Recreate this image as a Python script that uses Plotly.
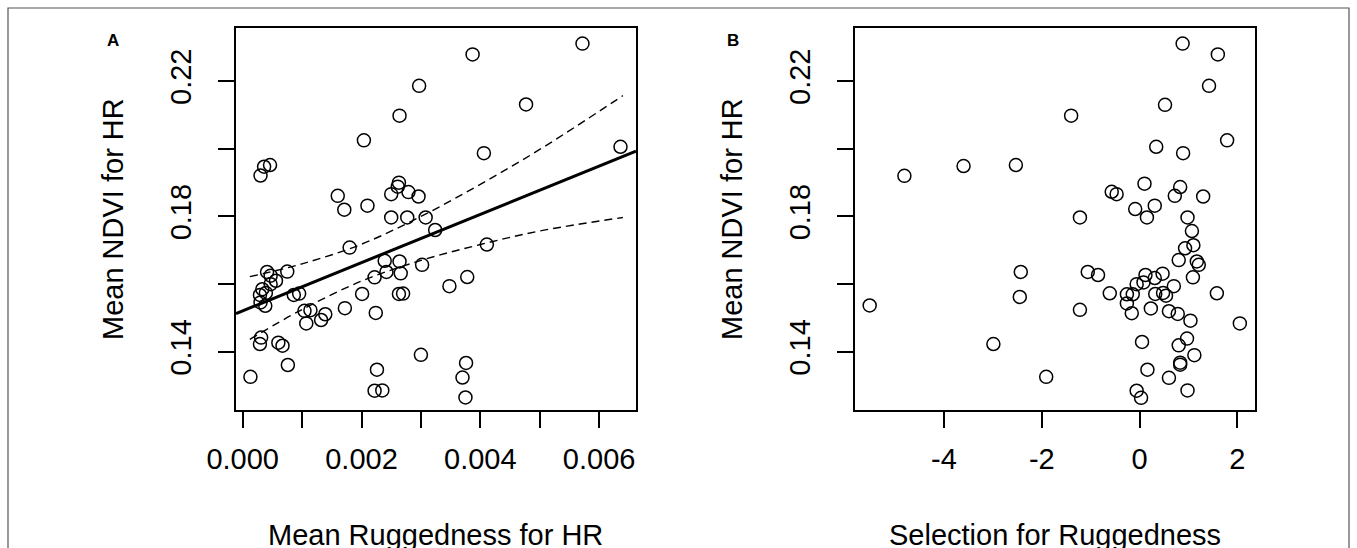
import plotly.graph_objects as go

# ---------------- data ----------------
rug_x = [0.00572, 0.00387, 0.00297, 0.00477, 0.00264, 0.00204, 0.00636, 0.00406,
         0.00030, 0.00036, 0.00046, 0.00263, 0.00261, 0.00250, 0.00279, 0.00296,
         0.00160, 0.00171, 0.00210, 0.00250, 0.00277, 0.00308, 0.00324, 0.00180,
         0.00411, 0.00239, 0.00264, 0.00302, 0.00242, 0.00266, 0.00222, 0.00378,
         0.00348, 0.00075, 0.00041, 0.00047, 0.00056, 0.00047, 0.00033, 0.00039,
         0.00029, 0.00030, 0.00038, 0.00086, 0.00095, 0.00201, 0.00263, 0.00270,
         0.00104, 0.00114, 0.00139, 0.00132, 0.00107, 0.00172, 0.00224, 0.00031,
         0.00029, 0.00060, 0.00067, 0.00076, 0.00013, 0.00300, 0.00376, 0.00370,
         0.00226, 0.00222, 0.00235, 0.00375]
ndvi_a = [0.2311, 0.2279, 0.2186, 0.2131, 0.2098, 0.2025, 0.2006, 0.1987,
          0.1921, 0.1947, 0.1952, 0.1900, 0.1888, 0.1866, 0.1872, 0.1859,
          0.1861, 0.1820, 0.1832, 0.1797, 0.1797, 0.1797, 0.1760, 0.1708,
          0.1717, 0.1669, 0.1667, 0.1657, 0.1636, 0.1632, 0.1620, 0.1621,
          0.1594, 0.1637, 0.1636, 0.1625, 0.1610, 0.1600, 0.1585, 0.1574,
          0.1568, 0.1546, 0.1536, 0.1568, 0.1572, 0.1571, 0.1571, 0.1572,
          0.1521, 0.1523, 0.1511, 0.1494, 0.1484, 0.1529, 0.1515, 0.1442,
          0.1423, 0.1427, 0.1418, 0.1361, 0.1326, 0.1391, 0.1367, 0.1324,
          0.1347, 0.1285, 0.1286, 0.1265]

sel_x = [0.88, 1.60, 1.42, 0.52, -1.40, 1.79, 0.34, 0.89,
         -4.81, -3.60, -2.53, 0.10, 0.83, 0.72, 1.30, -0.57,
         -0.47, -0.09, 0.31, -1.22, 0.15, 0.98, 1.07, 0.93,
         1.10, 0.80, 1.17, 1.21, 1.09, -2.43, -2.45, -5.52,
         -2.99, -1.91, -1.22, -1.06, -0.85, -0.61, -0.26, -0.14,
         -0.26, -0.16, -0.06, 0.08, 0.12, 0.31, 0.47, 0.70,
         0.32, 0.48, 0.54, 0.23, 0.60, 0.78, 1.04, 1.58,
         2.05, 0.05, 0.97, 0.80, 1.12, 0.83, 0.83, 0.16,
         0.60, 0.98, -0.06, 0.03]
ndvi_b = [0.2311, 0.2279, 0.2186, 0.2130, 0.2098, 0.2025, 0.2006, 0.1987,
          0.1920, 0.1949, 0.1952, 0.1897, 0.1887, 0.1861, 0.1859, 0.1873,
          0.1866, 0.1822, 0.1832, 0.1797, 0.1797, 0.1797, 0.1757, 0.1706,
          0.1715, 0.1671, 0.1667, 0.1657, 0.1620, 0.1636, 0.1562, 0.1537,
          0.1423, 0.1326, 0.1524, 0.1636, 0.1627, 0.1573, 0.1570, 0.1570,
          0.1543, 0.1514, 0.1600, 0.1605, 0.1627, 0.1618, 0.1631, 0.1594,
          0.1571, 0.1574, 0.1566, 0.1528, 0.1520, 0.1512, 0.1492, 0.1573,
          0.1484, 0.1429, 0.1439, 0.1419, 0.1390, 0.1368, 0.1362, 0.1347,
          0.1323, 0.1286, 0.1285, 0.1264]

# fitted regression line (panel A) and its confidence band
fit_x = [-0.000113, 0.006621]
fit_y = [0.1513, 0.1993]
ci_x = [0.00012, 0.001, 0.002, 0.003, 0.004, 0.005, 0.0064]
ci_upper = [0.1622, 0.1660, 0.1718, 0.1800, 0.1895, 0.1998, 0.2157]
ci_lower = [0.1437, 0.1525, 0.1609, 0.1670, 0.1717, 0.1757, 0.1797]

# ticks
y_tickvals = [0.14, 0.16, 0.18, 0.20, 0.22]
y_ticktext = ["0.14", "", "0.18", "", "0.22"]
xa_tickvals = [0.000, 0.001, 0.002, 0.003, 0.004, 0.005, 0.006]
xa_ticktext = ["0.000", "", "0.002", "", "0.004", "", "0.006"]
xb_tickvals = [-4, -2, 0, 2]
xb_ticktext = ["-4", "-2", "0", "2"]

# ---------------- figure ----------------
W, H = 1357, 548
FONT = "Liberation Sans, Arial, Helvetica, sans-serif"

fig = go.Figure()

marker = dict(symbol="circle-open", size=13, color="black", line=dict(width=1.5, color="black"))

fig.add_trace(go.Scatter(x=rug_x, y=ndvi_a, mode="markers", marker=marker,
                         xaxis="x", yaxis="y", showlegend=False))
fig.add_trace(go.Scatter(x=fit_x, y=fit_y, mode="lines",
                         line=dict(color="black", width=3),
                         xaxis="x", yaxis="y", showlegend=False))
fig.add_trace(go.Scatter(x=ci_x, y=ci_upper, mode="lines", line_shape="spline",
                         line=dict(color="black", width=1.4, dash="8px,5px"),
                         xaxis="x", yaxis="y", showlegend=False))
fig.add_trace(go.Scatter(x=ci_x, y=ci_lower, mode="lines", line_shape="spline",
                         line=dict(color="black", width=1.4, dash="8px,5px"),
                         xaxis="x", yaxis="y", showlegend=False))
fig.add_trace(go.Scatter(x=sel_x, y=ndvi_b, mode="markers", marker=marker,
                         xaxis="x2", yaxis="y2", showlegend=False))

def px_x(p):
    return p / W

def px_y(p):
    return 1 - p / H

ydom = [px_y(410), px_y(28)]

axis_common = dict(showline=True, linecolor="black", linewidth=1.5, mirror=True,
                   ticks="outside", ticklen=16, tickwidth=1.5, tickcolor="black",
                   showgrid=False, zeroline=False, automargin=False,
                   tickfont=dict(family=FONT, size=29, color="black"))

fig.update_layout(
    width=W, height=H,
    margin=dict(l=0, r=0, t=0, b=0, autoexpand=False),
    paper_bgcolor="white", plot_bgcolor="white",
    xaxis=dict(domain=[px_x(236), px_x(636)], range=[-0.000113, 0.006621],
               tickvals=xa_tickvals, ticktext=xa_ticktext, anchor="y",
               ticklabelstandoff=6, **axis_common),
    yaxis=dict(domain=ydom, range=[0.1228, 0.2357],
               tickvals=y_tickvals, ticktext=y_ticktext, anchor="x",
               tickangle=-90, ticklabelstandoff=16, **axis_common),
    xaxis2=dict(domain=[px_x(855), px_x(1255)], range=[-5.82, 2.36],
                tickvals=xb_tickvals, ticktext=xb_ticktext, anchor="y2",
                ticklabelstandoff=6, **axis_common),
    yaxis2=dict(domain=ydom, range=[0.1228, 0.2357],
                tickvals=y_tickvals, ticktext=y_ticktext, anchor="x2",
                tickangle=-90, ticklabelstandoff=16, **axis_common),
    font=dict(family=FONT, color="black"),
)

# outer frame
fig.add_shape(type="rect", xref="paper", yref="paper",
              x0=px_x(8), x1=px_x(1349), y0=-0.2, y1=px_y(8),
              line=dict(color="#555555", width=1.2), fillcolor="rgba(0,0,0,0)")

title_font = dict(family=FONT, size=29, color="black")
annos = [
    dict(text="<b>A</b>", x=px_x(113), y=px_y(41), font=dict(family=FONT, size=17, color="black")),
    dict(text="<b>B</b>", x=px_x(733), y=px_y(41), font=dict(family=FONT, size=17, color="black")),
    dict(text="Mean NDVI for HR", x=px_x(113), y=px_y(219), textangle=-90, font=title_font),
    dict(text="Mean NDVI for HR", x=px_x(732), y=px_y(219), textangle=-90, font=title_font),
    dict(text="Mean Ruggedness for HR", x=px_x(436), y=px_y(535), font=title_font),
    dict(text="Selection for Ruggedness", x=px_x(1055), y=px_y(535), font=title_font),
]
for a in annos:
    fig.add_annotation(xref="paper", yref="paper", showarrow=False,
                       xanchor="center", yanchor="middle", **a)

fig.write_html("out.html", config={"displayModeBar": False},
               post_script="document.body.style.margin='0';document.body.style.overflow='hidden';")
